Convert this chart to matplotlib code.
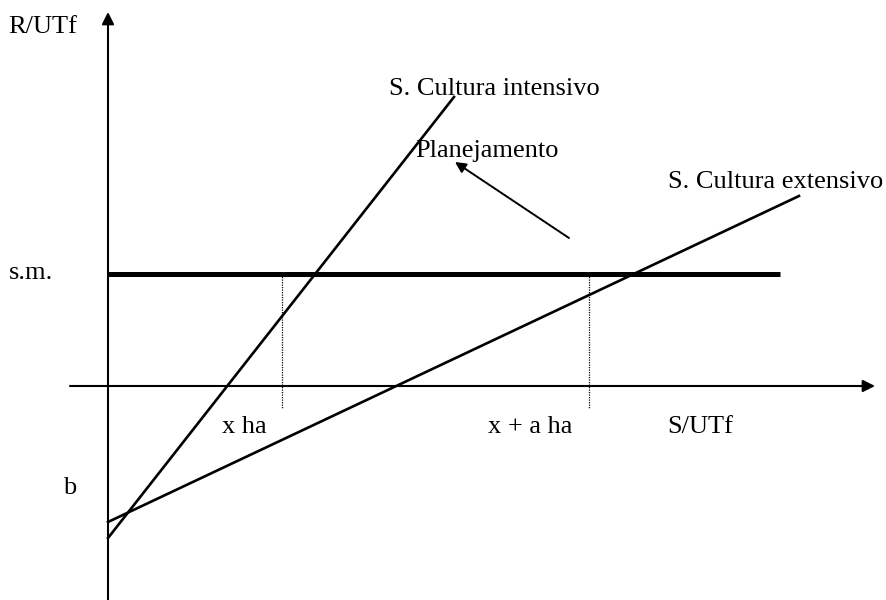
import matplotlib
matplotlib.use("Agg")
import matplotlib.pyplot as plt

plt.rcParams['font.family'] = ['Liberation Serif', 'DejaVu Serif']

# diagram coordinates: origin where the two axes cross, 1 unit ~ 10 px
x_axis_span = [-3.8, 76.7]
y_axis_span = [-21.4, 37.4]

sm_level = 11.2
sm_x = [0.0, 67.2]

intensivo_x = [0.0, 34.6]
intensivo_y = [-15.2, 28.9]

extensivo_x = [0.0, 69.1]
extensivo_y = [-13.6, 19.0]

guide_x = [17.4, 48.1]          # x ha, x + a ha
guide_bottom = -2.2

plan_tail = (46.1, 14.8)
plan_head = (34.7, 22.4)

labels = [
    ("R/UTf", -10.0, 35.3),
    ("s.m.", -9.9, 10.7),
    ("S. Cultura intensivo", 28.1, 29.1),
    ("Planejamento", 30.7, 22.9),
    ("S. Cultura extensivo", 56.0, 19.8),
    ("x ha", 11.4, -4.7),
    ("x + a ha", 38.0, -4.7),
    ("S/UTf", 55.9, -4.7),
    ("b", -4.5, -10.8),
]

fig = plt.figure(figsize=(8.87, 6.0), dpi=100)
ax = fig.add_axes([0, 0, 1, 1])
ax.set_xlim(-10.8, 77.9)
ax.set_ylim(-21.4, 38.6)
ax.axis('off')

head = dict(arrowstyle='-|>', color='black', lw=1.5, mutation_scale=18,
            shrinkA=0, shrinkB=0)
# axes with arrow heads
ax.annotate('', xy=(0, y_axis_span[1]), xytext=(0, y_axis_span[0]), arrowprops=head)
ax.annotate('', xy=(x_axis_span[1], 0), xytext=(x_axis_span[0], 0), arrowprops=head)

# salario minimo
ax.plot(sm_x, [sm_level, sm_level], color='black', lw=3.6, solid_capstyle='butt')

# the two systems
ax.plot(intensivo_x, intensivo_y, color='black', lw=1.9)
ax.plot(extensivo_x, extensivo_y, color='black', lw=1.9)

# dotted guides
for gx in guide_x:
    ax.plot([gx, gx], [sm_level, guide_bottom], color='black', lw=0.9, ls=(0, (1, 1)))

# planejamento arrow
plan = dict(arrowstyle='-|>', color='black', lw=1.4, mutation_scale=16,
            shrinkA=0, shrinkB=0)
ax.annotate('', xy=plan_head, xytext=plan_tail, arrowprops=plan)

for txt, tx, ty in labels:
    ax.text(tx, ty, txt, fontsize=19, ha='left', va='baseline')

plt.savefig("out.png", dpi=100)
